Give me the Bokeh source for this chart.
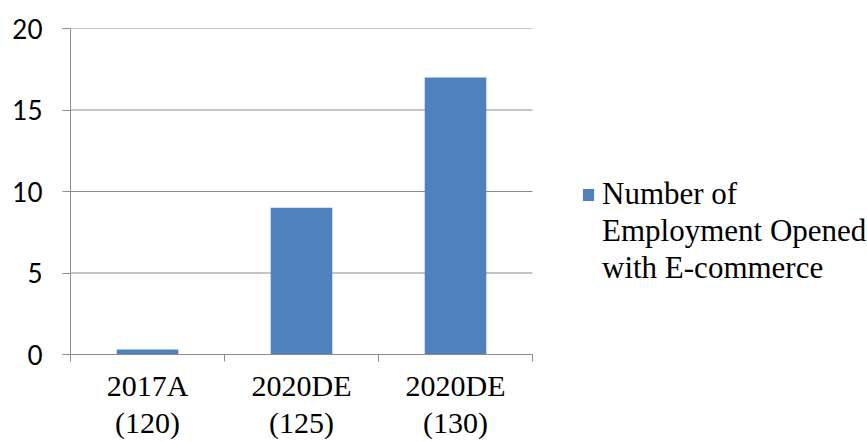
from bokeh.plotting import figure
from bokeh.models import Range1d, FixedTicker, Legend, LegendItem, ColumnDataSource
from bokeh.embed import file_html
from bokeh.resources import INLINE

categories = ["2017A\n(120)", "2020DE\n(125)", "2020DE\n(130)"]
values = [0.3, 9, 17]
series_lines = ["Number of", "Employment Opened", "with E-commerce"]
y_ticks = [0, 5, 10, 15, 20]

BAR = "#4F81BD"
GRID = "#8C8C8C"

W, H = 867, 442
LEFT, TOP, PLOT_RIGHT, BOTTOM = 70, 28, 532, 88
n = len(categories)
x_end = n * (W - LEFT) / (PLOT_RIGHT - LEFT)

xpos = [i + 0.5 for i in range(n)]
src = ColumnDataSource(dict(x=xpos, top=values))
grid_src = ColumnDataSource(dict(y=y_ticks, x0=[0] * len(y_ticks), x1=[n] * len(y_ticks)))

p = figure(width=W, height=H, output_backend="svg", toolbar_location=None,
           x_range=Range1d(0, x_end), y_range=Range1d(0, 20),
           min_border_left=LEFT, min_border_top=TOP, min_border_right=0, min_border_bottom=BOTTOM)
p.outline_line_color = None
p.background_fill_color = "white"
p.border_fill_color = "white"

p.segment(x0="x0", x1="x1", y0="y", y1="y", source=grid_src, line_color=GRID, line_width=1)
r = p.vbar(x="x", top="top", width=0.4, bottom=0, source=src, fill_color=BAR, line_color=None)
# invisible renderers for the continuation lines of the legend label
empty = ColumnDataSource(dict(x=[], top=[]))
r_blank = p.vbar(x="x", top="top", width=0.4, source=empty, fill_alpha=0, line_alpha=0)

# x axis
p.xaxis.bounds = (0, n)
p.xaxis.ticker = FixedTicker(ticks=xpos, minor_ticks=list(range(n + 1)))
p.xaxis.major_label_overrides = {x: c for x, c in zip(xpos, categories)}
p.xaxis.major_tick_out = 0
p.xaxis.major_tick_in = 0
p.xaxis.minor_tick_out = 7
p.xaxis.minor_tick_in = 0
p.xaxis.minor_tick_line_color = GRID
p.xaxis.axis_line_color = GRID
p.xaxis.major_label_text_font = "Liberation Serif"
p.xaxis.major_label_text_font_size = "30px"
p.xaxis.major_label_text_color = "black"
p.xaxis.major_label_standoff = 7
p.xaxis.major_label_text_line_height = 1.15

# y axis
p.yaxis.ticker = FixedTicker(ticks=y_ticks)
p.yaxis.major_tick_out = 8
p.yaxis.major_tick_in = 0
p.yaxis.minor_tick_line_color = None
p.yaxis.major_tick_line_color = GRID
p.yaxis.axis_line_color = GRID
p.yaxis.major_label_text_font = "Lato"
p.yaxis.major_label_text_font_size = "26px"
p.yaxis.major_label_text_color = "black"
p.yaxis.major_label_standoff = 20

p.xgrid.grid_line_color = None
p.ygrid.grid_line_color = None

items = [LegendItem(label=series_lines[0], renderers=[r])] + \
        [LegendItem(label=t, renderers=[r_blank]) for t in series_lines[1:]]
legend = Legend(items=items,
                location=(511, 68), border_line_color=None, background_fill_alpha=0,
                padding=0, margin=0, spacing=1, glyph_width=14, glyph_height=15, label_standoff=7,
                label_height=15,
                label_text_font="Liberation Serif", label_text_font_size="31px",
                label_text_color="black")
p.add_layout(legend, "center")

open("out.html", "w").write(file_html(p, INLINE))
